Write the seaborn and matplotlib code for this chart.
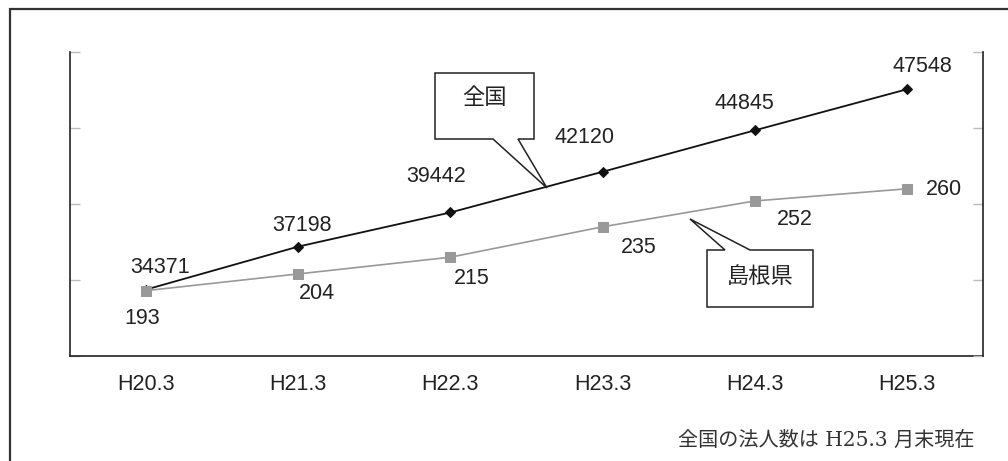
import numpy as np
import pandas as pd
import matplotlib
matplotlib.use("Agg")
import matplotlib.pyplot as plt
from matplotlib.patches import Polygon, Rectangle
import seaborn as sns

# ---- data ----
periods = ["H20.3", "H21.3", "H22.3", "H23.3", "H24.3", "H25.3"]
national = [34371, 37198, 39442, 42120, 44845, 47548]
shimane = [193, 204, 215, 235, 252, 260]
label_national = "全国"
label_shimane = "島根県"
footnote = "全国の法人数は H25.3 月末現在"

sns.set_style("white")
plt.rcParams["font.family"] = ["Liberation Sans", "Noto Sans CJK JP", "DejaVu Sans"]

W, H = 1008, 461
fig = plt.figure(figsize=(W / 100, H / 100), dpi=100)

def fx(px):
    return px / W

def fy(py):
    return 1 - py / H

# outer frame (right/bottom edges cut off in reference)
fig.patches.append(Rectangle((fx(10), -0.2), 1.5, fy(9) + 0.2, transform=fig.transFigure,
                             fill=False, edgecolor="#333333", linewidth=1.6))

ax = fig.add_axes([fx(70), fy(356), fx(983) - fx(70), fy(52) - fy(356)])
ax2 = ax.twinx()

df = pd.DataFrame({"pos": np.arange(len(periods)), "period": periods,
                   "national": national, "shimane": shimane})

sns.lineplot(data=df, x="pos", y="national", ax=ax, color="#111111", linewidth=1.3,
             marker="D", markersize=5.5, markeredgecolor="#111111", markerfacecolor="#111111")
sns.lineplot(data=df, x="pos", y="shimane", ax=ax2, color="#999999", linewidth=1.2,
             marker="s", markersize=7, markeredgecolor="#999999", markerfacecolor="#999999")

ax.set_xlim(-0.5, len(periods) - 0.5)
ax.set_ylim(30000, 50000)
ax2.set_ylim(150, 350)
ax.set_yticks(np.arange(30000, 50001, 5000))
ax2.set_yticks(np.arange(150, 351, 50))
ax.set_yticklabels([])
ax2.set_yticklabels([])
ax.set_xticks(df["pos"])
ax.set_xticklabels(periods, fontsize=15.5, color="#222222")
ax.set_xticks(np.arange(0.5, len(periods) - 0.5, 1), minor=True)
ax.set_xlabel("")
ax.set_ylabel("")
ax2.set_ylabel("")

ax.tick_params(axis="x", which="major", length=0, pad=13)
ax.tick_params(axis="x", which="minor", direction="in", length=6, color="#bbbbbb", width=1)
ax.tick_params(axis="y", which="major", direction="in", length=7, color="#bbbbbb", width=1,
               left=True, right=False)
ax2.tick_params(axis="y", which="major", direction="in", length=7, color="#bbbbbb", width=1,
                left=False, right=True)

for a in (ax, ax2):
    a.spines["top"].set_visible(False)
    for s in ("left", "right", "bottom"):
        a.spines[s].set_color("#222222")
        a.spines[s].set_linewidth(1.2)
ax.spines["right"].set_visible(False)
ax2.spines["left"].set_visible(False)
ax2.spines["bottom"].set_visible(False)

# data labels
off_nat = [(14, 22), (4, 21), (-14, 36), (-18, 34), (-10, 27), (15, 23)]
off_shi = [(-4, -28), (19, -20), (21, -21), (36, -21), (40, -19), (37, -1)]
for i, v in enumerate(national):
    ax.annotate(str(v), (i, v), xytext=off_nat[i], textcoords="offset pixels",
                ha="center", va="center", fontsize=15.5, color="#222222")
for i, v in enumerate(shimane):
    ax2.annotate(str(v), (i, v), xytext=off_shi[i], textcoords="offset pixels",
                 ha="center", va="center", fontsize=15.5, color="#222222")

# callouts
def callout(pts, text, cx, cy):
    poly = Polygon([(fx(x), fy(y)) for x, y in pts], closed=True, transform=fig.transFigure,
                   facecolor="white", edgecolor="#222222", linewidth=1.1, zorder=10)
    fig.patches.append(poly)
    fig.text(fx(cx), fy(cy), text, ha="center", va="center", fontsize=16,
             family=["Noto Sans CJK JP"], color="#222222", zorder=11)

callout([(435, 73), (534, 73), (534, 139), (518, 139), (547, 188), (493, 139), (435, 139)],
        label_national, 484, 97)
callout([(707, 250), (725, 250), (690, 219), (750, 250), (813, 250), (813, 307), (707, 307)],
        label_shimane, 760, 276)

fig.text(fx(975), fy(440), footnote, ha="right", va="center", fontsize=14.5,
         family=["DejaVu Serif", "Noto Sans CJK JP"], color="#333333")

fig.savefig("out.png", dpi=100)
